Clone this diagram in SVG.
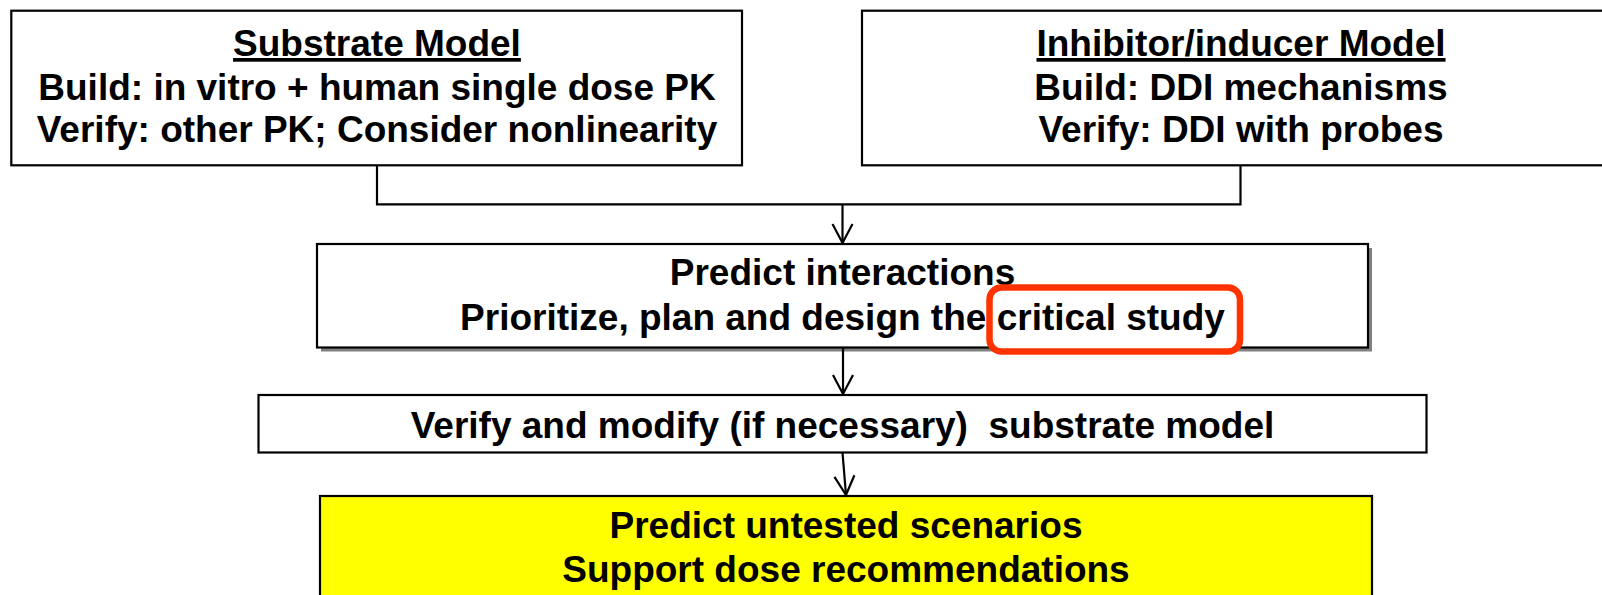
<svg xmlns="http://www.w3.org/2000/svg" width="1602" height="595" viewBox="0 0 1602 595">
<style>
.box{fill:#fff;stroke:#000;stroke-width:2.2}
.t{font-family:"Liberation Sans",Arial,sans-serif;font-weight:bold;font-size:37px;fill:#000;text-anchor:middle}
.u{text-decoration:underline}
.conn{fill:none;stroke:#000;stroke-width:2.2}
</style>
<defs>
<marker id="arr" markerUnits="userSpaceOnUse" markerWidth="24" markerHeight="24" refX="0" refY="0" orient="auto" overflow="visible">
<path d="M-19,-10 L0,0 L-19,10" fill="none" stroke="#000" stroke-width="2.2"/>
</marker>
</defs>
<rect width="1602" height="595" fill="#fff"/>
<g id="substrate">
<rect class="box" x="11.3" y="10.7" width="730.7" height="154.6"/>
<text class="t u" x="377" y="56">Substrate Model</text>
<text class="t" x="377" y="99.5">Build: in vitro + human single dose PK</text>
<text class="t" x="377" y="142">Verify: other PK; Consider nonlinearity</text>
</g>
<g id="inhibitor">
<rect class="box" x="862" y="10.7" width="760" height="154.6"/>
<text class="t u" x="1241" y="56">Inhibitor/inducer Model</text>
<text class="t" x="1241" y="99.5">Build: DDI mechanisms</text>
<text class="t" x="1241" y="142">Verify: DDI with probes</text>
</g>
<g id="predict">
<rect x="321" y="248" width="1051" height="103.5" fill="#808080"/>
<rect class="box" x="317" y="244" width="1051" height="103.5"/>
<rect x="989.5" y="287.5" width="250.5" height="64" rx="12" fill="#fff"/>
<text class="t" x="842.5" y="285">Predict interactions</text>
<text class="t" x="842.5" y="330">Prioritize, plan and design the critical study</text>
<rect x="989.5" y="287.5" width="250.5" height="64" rx="12" fill="none" stroke="#FF3300" stroke-width="6.5"/>
</g>
<g id="verify">
<rect class="box" x="258.5" y="395" width="1168" height="57.5"/>
<text class="t" x="842.5" y="438" xml:space="preserve">Verify and modify (if necessary)  substrate model</text>
</g>
<g id="outcome">
<rect x="320" y="496" width="1052" height="120" fill="#FFFF00" stroke="#000" stroke-width="2.2"/>
<text class="t" x="846" y="538">Predict untested scenarios</text>
<text class="t" x="846" y="582">Support dose recommendations</text>
</g>
<g id="connectors">
<path class="conn" d="M377,165.3 V204.3 H1240.5 V165.3"/>
<path class="conn" d="M842.5,204.3 V243" marker-end="url(#arr)"/>
<path class="conn" d="M843,347.5 V394" marker-end="url(#arr)"/>
<path class="conn" d="M842.5,452.7 L846,495" marker-end="url(#arr)"/>
</g>
</svg>
